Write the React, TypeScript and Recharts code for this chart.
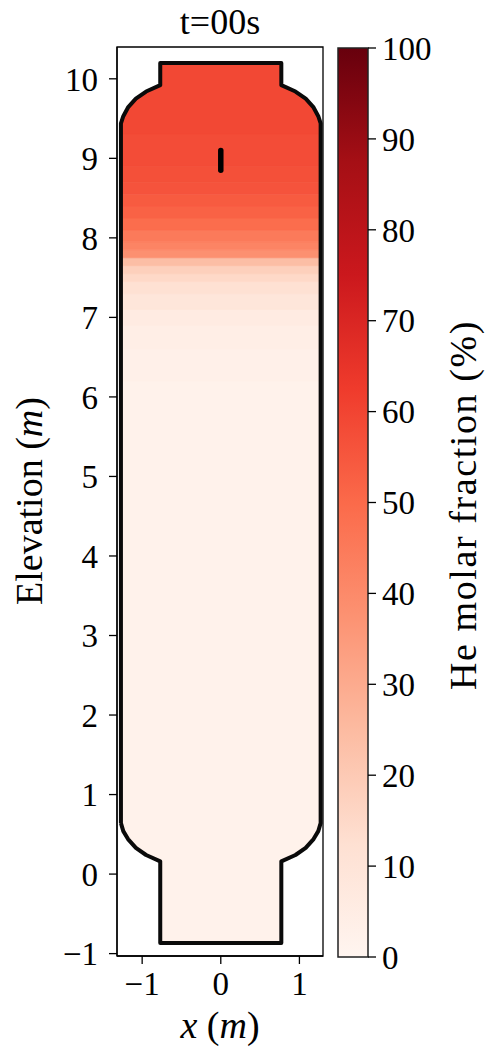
import React from 'react';
import { ComposedChart, XAxis, YAxis, Area, Line, ReferenceArea } from 'recharts';

// ---- data ----
// He molar fraction (%) by elevation band (edges in m)
const ELEV_EDGES = [-0.87, 6.2, 6.6, 6.9, 7.1, 7.3, 7.45, 7.55, 7.65, 7.75, 7.85, 7.95, 8.1, 8.25, 8.4, 8.55, 8.7, 8.9, 9.3, 10.21];
const HE_FRACTION = [2, 3, 4, 6, 9, 12, 15, 18, 24, 38, 42, 45, 49, 52, 54, 56, 57, 58, 59];

// vessel outline (x in m, elevation in m), loop starting at lower-left wall
const OUTLINE_X = [-1.27, -1.24, -1.18, -1.08, -0.95, -0.77, -0.77, 0.77, 0.77, 0.95, 1.08, 1.18, 1.24, 1.27, 1.27, 1.24, 1.18, 1.08, 0.95, 0.77, 0.77, -0.77, -0.77, -0.95, -1.08, -1.18, -1.24, -1.27];
const OUTLINE_Y = [0.64, 0.54, 0.44, 0.33, 0.24, 0.16, -0.865, -0.865, 0.16, 0.24, 0.33, 0.44, 0.54, 0.64, 9.44, 9.53, 9.64, 9.75, 9.84, 9.92, 10.2, 10.2, 9.92, 9.84, 9.75, 9.64, 9.53, 9.44];

// probe marker
const PROBE_X = [0, 0];
const PROBE_Y = [8.85, 9.1];

const X_TICKS = [-1, 0, 1];
const Y_TICKS = [-1, 0, 1, 2, 3, 4, 5, 6, 7, 8, 9, 10];
const CB_TICKS = [0, 10, 20, 30, 40, 50, 60, 70, 80, 90, 100];
const CB_RANGE = [0, 100];

// matplotlib "Reds" colormap anchors
const REDS = ['#fff5f0', '#fee0d2', '#fcbba1', '#fc9272', '#fb6a4a', '#ef3b2c', '#cb181d', '#a50f15', '#67000d'];

const FONT = '"Liberation Serif", "DejaVu Serif", serif';
const WALL_HALF = 1.27;
const MASK_HALF = 1.29;

function hexToRgb(h: string) {
  return [parseInt(h.slice(1, 3), 16), parseInt(h.slice(3, 5), 16), parseInt(h.slice(5, 7), 16)];
}
function redsColor(pct: number) {
  const t = Math.max(0, Math.min(1, pct / 100)) * (REDS.length - 1);
  const i = Math.min(REDS.length - 2, Math.floor(t));
  const f = t - i;
  const a = hexToRgb(REDS[i]);
  const b = hexToRgb(REDS[i + 1]);
  const c = a.map((v, k) => Math.round(v + (b[k] - v) * f));
  return `rgb(${c[0]},${c[1]},${c[2]})`;
}
const fmt = (v: number) => (v < 0 ? '\u2212' + Math.abs(v) : String(v));

const outlinePts = OUTLINE_X.map((x, i) => ({ x, y: OUTLINE_Y[i] }));
const outlineLoop = [...outlinePts, outlinePts[0]];
const topPts = outlinePts.filter((p) => p.y > 5);
const botPts = outlinePts.filter((p) => p.y < 5);
const topMask = [
  { x: MASK_HALF, r: [topPts[0].y, 10.26] },
  ...topPts.map((p) => ({ x: p.x, r: [p.y, 10.26] })),
  { x: -MASK_HALF, r: [topPts[topPts.length - 1].y, 10.26] },
];
const botMask = [
  { x: -MASK_HALF, r: [-0.95, botPts[0].y] },
  ...botPts.map((p) => ({ x: p.x, r: [-0.95, p.y] })),
  { x: MASK_HALF, r: [-0.95, botPts[botPts.length - 1].y] },
];
const bands = HE_FRACTION.map((v, i) => ({
  color: redsColor(v),
  data: [
    { x: -WALL_HALF, r: [ELEV_EDGES[i], ELEV_EDGES[i + 1]] },
    { x: WALL_HALF, r: [ELEV_EDGES[i], ELEV_EDGES[i + 1]] },
  ],
}));
const probe = PROBE_X.map((x, i) => ({ x, y: PROBE_Y[i] }));
const cbData = [
  { x: 0, r: CB_RANGE },
  { x: 1, r: CB_RANGE },
];

const tickStyle = { fill: '#000', fontSize: 33, fontFamily: FONT };

export default function App() {
  return (
    <div style={{ position: 'absolute', left: 0, top: 0, width: 485, height: 1048, background: '#fff' }}>
      <div style={{ position: 'absolute', left: 0, top: 0 }}>
        <ComposedChart width={485} height={1048} margin={{ top: 47, right: 162, bottom: 32, left: 57 }}>
          <XAxis
            type="number"
            dataKey="x"
            domain={[-1.32, 1.3]}
            ticks={X_TICKS}
            allowDataOverflow
            height={60}
            tickSize={8}
            tickMargin={8}
            tick={tickStyle}
            tickFormatter={fmt}
            axisLine={{ stroke: '#000', strokeWidth: 1.3 }}
            tickLine={{ stroke: '#000', strokeWidth: 1.3 }}
          />
          <YAxis
            type="number"
            domain={[-1.03, 10.4]}
            ticks={Y_TICKS}
            allowDataOverflow
            width={60}
            tickSize={8}
            tickMargin={11}
            tick={tickStyle}
            tickFormatter={fmt}
            axisLine={{ stroke: '#000', strokeWidth: 1.3 }}
            tickLine={{ stroke: '#000', strokeWidth: 1.3 }}
          />
          {bands.map((b, i) => (
            <Area
              key={'band' + i}
              data={b.data}
              dataKey="r"
              type="linear"
              fill={b.color}
              fillOpacity={1}
              stroke={b.color}
              strokeWidth={0.8}
              isAnimationActive={false}
              activeDot={false}
              dot={false}
            />
          ))}
          <Area data={topMask} dataKey="r" type="linear" fill="#fff" fillOpacity={1} stroke="none" isAnimationActive={false} activeDot={false} dot={false} />
          <Area data={botMask} dataKey="r" type="linear" fill="#fff" fillOpacity={1} stroke="none" isAnimationActive={false} activeDot={false} dot={false} />
          <Line data={outlineLoop} dataKey="y" type="linear" stroke="#0a0a0a" strokeWidth={4} strokeLinejoin="round" dot={false} activeDot={false} isAnimationActive={false} />
          <Line data={probe} dataKey="y" type="linear" stroke="#000" strokeWidth={5.5} strokeLinecap="round" dot={false} activeDot={false} isAnimationActive={false} />
          <ReferenceArea x1={-1.32} x2={1.3} y1={-1.03} y2={10.4} fill="none" stroke="#000" strokeWidth={1.3} />
        </ComposedChart>
      </div>
      <div style={{ position: 'absolute', left: 0, top: 0 }}>
        <ComposedChart width={485} height={1048} margin={{ top: 48, right: 57, bottom: 91, left: 338 }}>
          <defs>
            <linearGradient id="redsGrad" x1="0" y1="1" x2="0" y2="0">
              {REDS.map((c, i) => (
                <stop key={i} offset={i / (REDS.length - 1)} stopColor={c} />
              ))}
            </linearGradient>
          </defs>
          <XAxis type="number" dataKey="x" domain={[0, 1]} hide />
          <YAxis
            orientation="right"
            type="number"
            domain={[0, 100]}
            ticks={CB_TICKS}
            width={60}
            tickSize={8}
            tickMargin={6}
            tick={{ ...tickStyle, textAnchor: 'start' }}
            axisLine={false}
            tickLine={{ stroke: '#000', strokeWidth: 1.3 }}
          />
          <Area data={cbData} dataKey="r" type="linear" fill="url(#redsGrad)" fillOpacity={1} stroke="none" isAnimationActive={false} activeDot={false} dot={false} />
          <ReferenceArea x1={0} x2={1} y1={0} y2={100} fill="none" stroke="#222" strokeWidth={1.5} />
        </ComposedChart>
      </div>
      <svg width={485} height={1048} style={{ position: 'absolute', left: 0, top: 0, pointerEvents: 'none' }}>
        <text x={220} y={34} textAnchor="middle" fontFamily={FONT} fontSize={36} fill="#000">t=00s</text>
        <text x={220} y={1038} textAnchor="middle" fontFamily={FONT} fontSize={38} fill="#000">
          <tspan fontStyle="italic">x</tspan> (<tspan fontStyle="italic">m</tspan>)
        </text>
        <text x={29} y={501} textAnchor="middle" dominantBaseline="central" transform="rotate(-90 29 501)" fontFamily={FONT} fontSize={38} fill="#000">
          Elevation (<tspan fontStyle="italic">m</tspan>)
        </text>
        <text x={463} y={505} textAnchor="middle" dominantBaseline="central" transform="rotate(-90 463 505)" fontFamily={FONT} fontSize={38} letterSpacing={1.6} fill="#000">
          He molar fraction (%)
        </text>
      </svg>
    </div>
  );
}
